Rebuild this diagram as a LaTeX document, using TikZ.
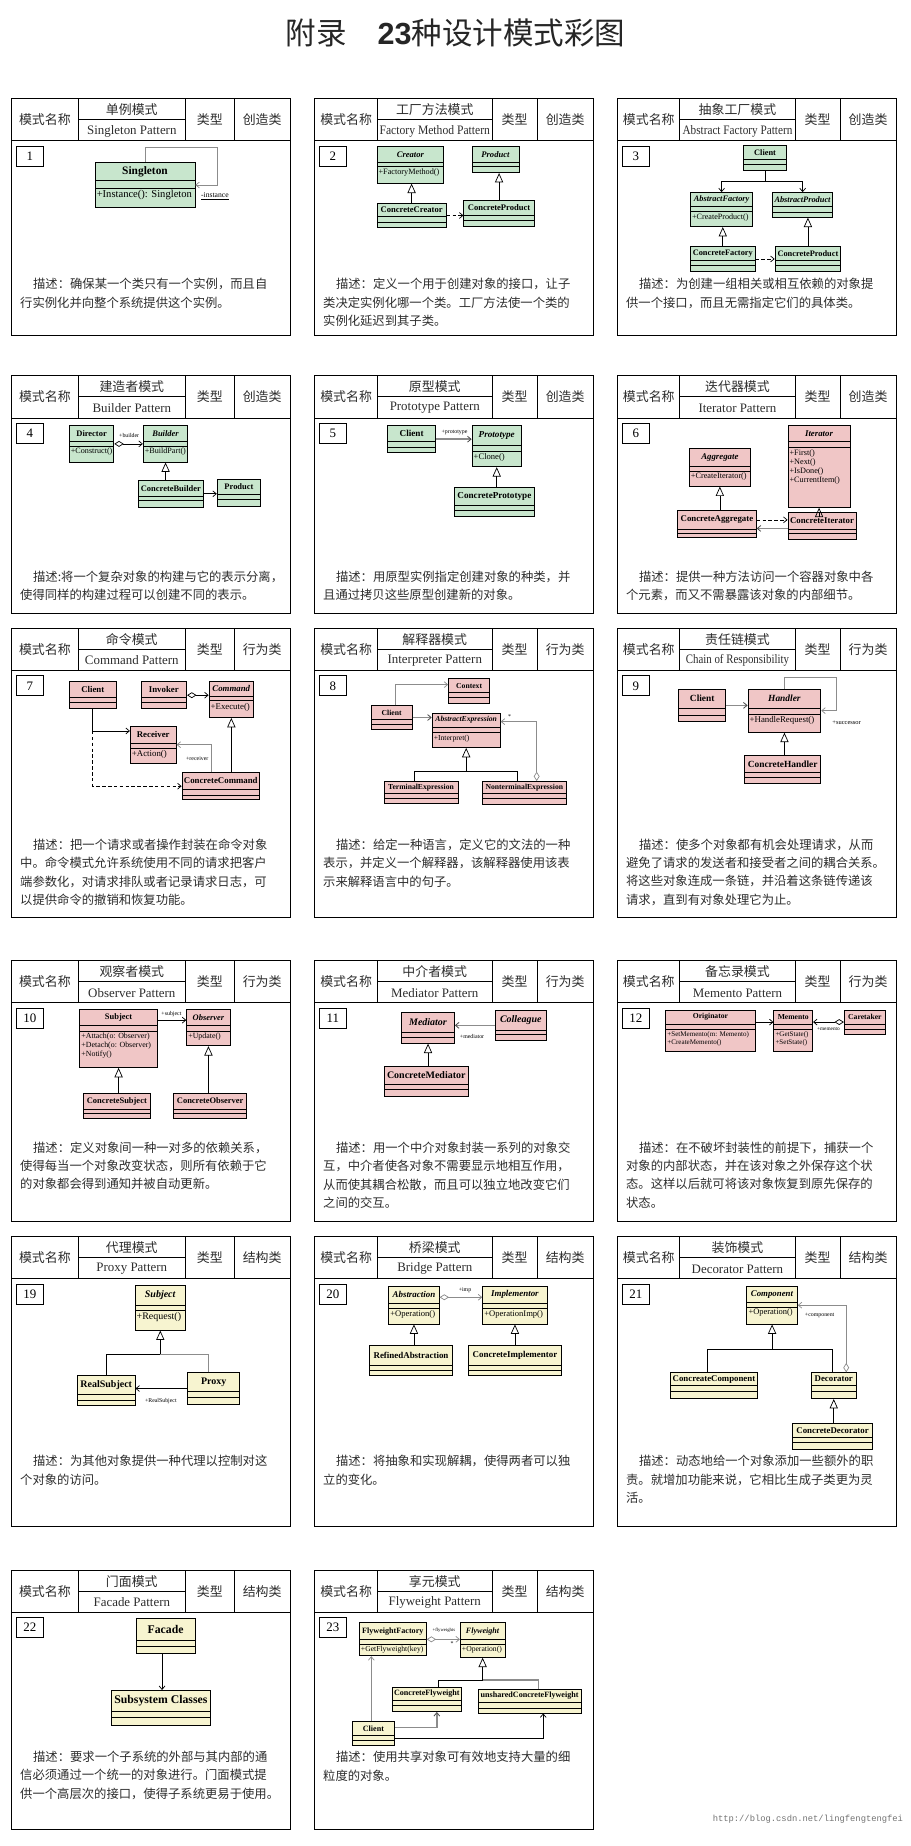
\documentclass[tikz,border=0pt]{standalone}
\usepackage{fontspec}
\usepackage{graphicx}
\setmainfont{Liberation Serif}
\newfontfamily\cjk{Noto Sans CJK SC}
\newfontfamily\ttlsans{Liberation Sans}
\newfontfamily\wmfont{Liberation Mono}
\usetikzlibrary{arrows.meta,fit,calc}
\definecolor{cgreen}{RGB}{200,230,205}
\definecolor{cpink}{RGB}{240,198,198}
\definecolor{cyell}{RGB}{247,244,208}
\definecolor{txt}{RGB}{45,45,45}
\definecolor{lgray}{RGB}{140,140,140}
\def\cf{cgreen}\def\cns{7}\def\cms{6}\def\cml{7}
\tikzset{
 pbox/.style={draw=black, line width=0.8pt, inner sep=0pt},
 pline/.style={line width=0.8pt},
 hcn/.style={font=\cjk\fontsize{11}{13}\selectfont, text=txt, inner sep=0pt},
 hen/.style={font=\fontsize{11}{13}\selectfont, text=txt, inner sep=0pt},
 nbox/.style={draw=black, line width=0.7pt, inner sep=0pt},
 ntxt/.style={font=\fontsize{11}{13}\selectfont, inner sep=0pt},
 desc/.style={font=\cjk\fontsize{10.5}{15.7}\selectfont, text=txt, align=left, inner sep=0pt, anchor=north west},
 cls/.style={draw=black, line width=0.7pt, inner sep=0pt},
 cline/.style={line width=0.6pt},
 cname/.style={font=\bfseries\fontsize{\cns}{\cns}\selectfont, inner sep=0pt},
 cmeth/.style={font=\fontsize{\cms}{\cml}\selectfont, inner xsep=1.2pt, inner ysep=1.6pt, align=left, anchor=north west},
 lbl/.style={font=\fontsize{5}{6}\selectfont, inner sep=0pt},
 conn/.style={line width=0.6pt, draw=black},
 barb/.style={-{Straight Barb[length=3pt, width=5pt, line width=0.6pt]}},
 nav/.style={conn, barb},
 gnav/.style={line width=1.4pt, draw=lgray, -{Straight Barb[length=3pt, width=5pt, line width=0.7pt, color=black!70]}},
 gen/.style={conn, -{Triangle[open, length=8pt, width=7pt, line width=0.6pt]}},
 dep/.style={conn, dash pattern=on 3pt off 2pt, barb},
 agg/.style={conn, {Diamond[open, length=8pt, width=5pt, line width=0.6pt]}-{Straight Barb[length=3pt, width=5pt, line width=0.6pt]}},
 ttl/.style={font=\cjk\fontsize{26}{30}\selectfont, inner sep=0pt, text=black!85},
}
% class box: name, left, top, right, bottom, line1, line2, title, methods
\newcommand{\uml}[9]{%
 \node[cls, fill=\cf, fit={(#2,#3) (#4,#5)}] (#1) {};
 \draw[cline] (#2,#6) -- (#4,#6) (#2,#7) -- (#4,#7);
 \node[cname] (#1n) at ({(#2+#4)/2},{(#3+#6)/2}) {#8};
 \node[cmeth] (#1m) at (#2,#7) {#9};
}
% panel: number, height, cn name, en name, type, d1, d2
\newcommand{\panel}[7]{%
 \node[pbox, fit={(0,0) (237,#2)}] (P#1) {};
 \draw[pline] (0,36) -- (237,36) (#6,0) -- (#6,36) (#7,0) -- (#7,36) (189.5,0) -- (189.5,36) (#6,18) -- (#7,18);
 \node[hcn] (P#1a) at ({#6/2},18) {模式名称};
 \node[hcn] (P#1b) at ({(#6+#7)/2},9.5) {#3};
 \node[hen] (P#1c) at ({(#6+#7)/2},27.5) {#4};
 \node[hcn] (P#1d) at ({(#7+189.5)/2},18) {类型};
 \node[hcn] (P#1e) at (213.25,18) {#5};
 \node[nbox, fit={(4,40.5) (27,57.5)}] (P#1f) {};
 \node[ntxt] (P#1g) at (15.5,49) {#1};
}
\newcommand{\desc}[3]{\node[desc] (#1) at (7,{#2-5}) {\hspace*{11pt}#3};}

\begin{document}
\begin{tikzpicture}[x=1pt,y=-1pt]
\useasboundingbox (0,0) rectangle (775,1572);
\fill[white] (0,0) rectangle (775,1572);
\node[ttl] (title) at (388,28) {附录　{\ttlsans\bfseries 23}种设计模式彩图};

% ---------- P1
\begin{scope}[shift={(10,84)}]
\panel{1}{202}{单例模式}{Singleton Pattern}{创造类}{56.5}{148}
\def\cf{cgreen}\def\cns{9.7}\def\cms{9}\def\cml{9.5}
\uml{c1a}{71}{54}{156}{93}{70}{76}{Singleton}{+Instance(): Singleton}
\draw[nav,draw=lgray] (c1a.north) -- ++(0,-12) -| ([xshift=19pt]c1a.east) -- (c1a.east);
\node[lbl,font=\fontsize{6.5}{7}\selectfont] (l1) at (173,83) {\underline{-instance}};
\desc{d1}{158}{描述：确保某一个类只有一个实例，而且自\\行实例化并向整个系统提供这个实例。}
\end{scope}

% ---------- P2
\begin{scope}[shift={(268,84)}]
\panel{2}{202}{工厂方法模式}{\scalebox{0.9}[1]{Factory Method Pattern}}{创造类}{53.5}{151}
\def\cf{cgreen}\def\cns{7.3}\def\cms{7}\def\cml{8}
\uml{c2a}{53}{41}{110}{72}{54}{58}{\textit{Creator}}{+FactoryMethod()}
\uml{c2b}{134}{41}{174}{63}{54}{58}{\textit{Product}}{}
\uml{c2c}{53}{89}{112}{110}{100}{105}{ConcreteCreator}{}
\uml{c2d}{127}{87}{187}{109}{99}{104}{ConcreteProduct}{}
\draw[gen] (c2c.north) -- (c2c.north |- c2a.south);
\draw[gen] (c2d.north) -- (c2d.north |- c2b.south);
\draw[dep] (c2c.east) -- (c2c.east -| c2d.west);
\desc{d2}{158}{描述：定义一个用于创建对象的接口，让子\\类决定实例化哪一个类。工厂方法使一个类的\\实例化延迟到其子类。}
\end{scope}

% ---------- P3
\begin{scope}[shift={(526,84)}]
\panel{3}{202}{抽象工厂模式}{\scalebox{0.87}[1]{Abstract Factory Pattern}}{创造类}{53}{151}
\def\cf{cgreen}\def\cns{7.1}\def\cms{6.9}\def\cml{8}
\uml{c3a}{107}{40}{144}{61}{52}{56}{Client}{}
\uml{c3b}{62}{80}{115}{109}{92}{96}{\textit{AbstractFactory}}{+CreateProduct()}
\uml{c3c}{132}{80}{183}{101}{92}{96.5}{\textit{AbstractProduct}}{}
\uml{c3d}{62}{126}{117}{147}{138}{142}{ConcreteFactory}{}
\uml{c3e}{134}{126}{190}{147}{138}{142}{ConcreteProduct}{}
\coordinate (c3j) at ([yshift=-9pt]c3a.south);
\draw[conn] (c3a.south) -- (c3j);
\draw[nav] (c3j) -| (c3b.north);
\draw[nav] (c3j) -| (c3c.north);
\draw[gen] (c3d.north) -- (c3d.north |- c3b.south);
\draw[gen] (c3e.north) -- (c3e.north |- c3c.south);
\draw[dep] (c3d.east) -- (c3d.east -| c3e.west);
\desc{d3}{158}{描述：为创建一组相关或相互依赖的对象提\\供一个接口，而且无需指定它们的具体类。}
\end{scope}

% ---------- P4
\begin{scope}[shift={(10,320)}]
\panel{4}{202}{建造者模式}{Builder Pattern}{创造类}{56.5}{148}
\def\cf{cgreen}\def\cns{7.2}\def\cms{6.9}\def\cml{8}
\uml{c4a}{49}{42.5}{87}{73.5}{56}{60}{Director}{+Construct()}
\uml{c4b}{112}{42.5}{150}{73.5}{56}{60}{\textit{Builder}}{+BuildPart()}
\uml{c4c}{108}{89}{163}{112}{102.5}{106.5}{ConcreteBuilder}{}
\uml{c4d}{175}{88}{212}{111}{101}{105.5}{Product}{}
\draw[agg] (c4a.east) -- (c4a.east -| c4b.west);
\node[lbl] (l4) at (100,51) {+builder};
\draw[gen] (c4b.south |- c4c.north) -- (c4b.south);
\draw[nav] (c4c.east) -- (c4c.east -| c4d.west);
\desc{d4}{171}{描述:将一个复杂对象的构建与它的表示分离，\\使得同样的构建过程可以创建不同的表示。}
\end{scope}

% ---------- P5
\begin{scope}[shift={(268,320)}]
\panel{5}{202}{原型模式}{Prototype Pattern}{创造类}{53.5}{151}
\def\cf{cgreen}\def\cns{7.8}\def\cms{7.3}\def\cml{8.3}
\uml{c5a}{62}{42.5}{103}{65.5}{56}{61}{Client}{}
\uml{c5b}{134}{42.5}{176}{77.5}{59.5}{64}{\textit{Prototype}}{+Clone()}
\uml{c5c}{119}{95}{187}{120}{110.5}{115}{ConcretePrototype}{}
\draw[gnav] (c5a.east) -- (c5a.east -| c5b.west);
\node[lbl] (l5) at (119,48) {+prototype};
\draw[gen] (c5b.south |- c5c.north) -- (c5b.south);
\desc{d5}{171}{描述：用原型实例指定创建对象的种类，并\\且通过拷贝这些原型创建新的对象。}
\end{scope}

% ---------- P6
\begin{scope}[shift={(526,320)}]
\panel{6}{202}{迭代器模式}{Iterator Pattern}{创造类}{53}{151}
\def\cf{cpink}\def\cns{7.5}\def\cms{7}\def\cml{7.8}
\uml{c6a}{145}{42.5}{198}{112}{56}{61}{\textit{Iterator}}{+First()\\+Next()\\+IsDone()\\+CurrentItem()}
\uml{c6b}{61}{62}{113}{94}{77}{81}{\textit{Aggregate}}{+CreateIterator()}
\uml{c6c}{51}{115}{118}{138}{130.5}{134}{ConcreteAggregate}{}
\uml{c6d}{145}{116}{203}{139}{130.5}{134.5}{ConcreteIterator}{}
\draw[gen] (c6b.south |- c6c.north) -- (c6b.south);
\draw[gen] (c6a.south |- c6d.north) -- (c6a.south);
\draw[dep] ([yshift=3.8pt]c6c.east) -- ([yshift=3.8pt]c6c.east -| c6d.west);
\draw[gnav] ([yshift=-2.5pt]c6d.west) -- ([yshift=-2.5pt]c6d.west -| c6c.east);
\desc{d6}{171}{描述：提供一种方法访问一个容器对象中各\\个元素，而又不需暴露该对象的内部细节。}
\end{scope}

% ---------- P7
\begin{scope}[shift={(10,535)}]
\panel{7}{246}{命令模式}{Command Pattern}{行为类}{56.5}{148}
\def\cf{cpink}\def\cns{7.5}\def\cms{7.5}\def\cml{8.5}
\uml{c7a}{49}{45.5}{89}{68.5}{59}{63.5}{Client}{}
\uml{c7b}{110}{45.5}{149}{68.5}{59}{63.5}{Invoker}{}
\uml{c7c}{168}{45}{206}{76}{57.8}{61.8}{\textit{Command}}{+Execute()}
\uml{c7d}{101}{83.3}{140}{115}{98}{102}{Receiver}{+Action()}
\uml{c7e}{145}{123}{211}{146}{137}{142}{ConcreteCommand}{}
\draw[agg] (c7b.east) -- (c7b.east -| c7c.west);
\coordinate (c7r) at ([yshift=-4.5pt]c7d.north west);
\draw[nav] (c7a.south) -- (c7a.south |- c7r) -- (c7r);
\draw[dep] (c7a.south |- c7r) -- (c7a.south |- c7e.west) -- (c7e.west);
\draw[gen] (c7c.south |- c7e.north) -- (c7c.south);
\draw[nav,draw=lgray] ([xshift=-8pt]c7e.north) |- (c7d.east);
\node[lbl] (l7) at (158,111) {+receiver};
\desc{d7}{184}{描述：把一个请求或者操作封装在命令对象\\中。命令模式允许系统使用不同的请求把客户\\端参数化，对请求排队或者记录请求日志，可\\以提供命令的撤销和恢复功能。}
\end{scope}

% ---------- P8
\begin{scope}[shift={(268,535)}]
\panel{8}{246}{解释器模式}{Interpreter Pattern}{行为类}{53.5}{151}
\def\cf{cpink}\def\cns{6.5}\def\cms{6.5}\def\cml{7.5}
\uml{c8a}{114}{43}{149}{64}{55}{59}{Context}{}
\uml{c8b}{48}{66}{83}{86}{77.6}{81.8}{Client}{}
\uml{c8c}{100}{72.5}{158}{101.5}{84}{89}{\textit{AbstractExpression}}{+Interpret()}
\uml{c8d}{59}{130.5}{122}{149.5}{141}{145}{TerminalExpression}{}
\uml{c8e}{143}{130.5}{214}{150}{141}{145}{NonterminalExpression}{}
\coordinate (c8k) at ([yshift=5.5pt]c8a.west);
\draw[nav,draw=lgray] ([xshift=3.5pt]c8b.north) |- (c8k);
\draw[gnav] (c8b.east) -- (c8b.east -| c8c.west);
\coordinate (c8j) at ([yshift=-20pt]c8c.south);
\draw[gen] (c8j) -- (c8c.south);
\draw[conn] ([xshift=-6pt]c8d.north) |- (c8j);
\draw[conn] ([xshift=-6pt]c8e.north) |- (c8j);
\draw[agg,draw=lgray] ([xshift=10.5pt]c8e.north) |- ([yshift=7.5pt]c8c.east);
\node[lbl] (l8) at (166,75) {*};
\desc{d8}{184}{描述：给定一种语言，定义它的文法的一种\\表示，并定义一个解释器，该解释器使用该表\\示来解释语言中的句子。}
\end{scope}

% ---------- P9
\begin{scope}[shift={(526,535)}]
\panel{9}{246}{责任链模式}{\scalebox{0.84}[1]{Chain of Responsibility}}{行为类}{53}{151}
\def\cf{cpink}\def\cns{8}\def\cms{7.5}\def\cml{8.5}
\uml{c9a}{52}{51.7}{92}{79.7}{68.3}{74}{Client}{}
\uml{c9b}{111}{51.7}{173}{88.6}{68.3}{73.5}{\textit{Handler}}{+HandleRequest()}
\uml{c9c}{108}{108.7}{173}{132.5}{123}{127.3}{ConcreteHandler}{}
\draw[gnav] (c9a.east) -- (c9a.east -| c9b.west);
\draw[nav,draw=lgray] (c9b.north) -- ++(0,-9.7) -| ([xshift=13pt]c9b.east) -- (c9b.east);
\node[lbl,font=\fontsize{5.5}{6}\selectfont] (l9) at (195,80.4) {+successor};
\draw[gen] (c9b.south |- c9c.north) -- (c9b.south);
\desc{d9}{184}{描述：使多个对象都有机会处理请求，从而\\避免了请求的发送者和接受者之间的耦合关系。\\将这些对象连成一条链，并沿着这条链传递该\\请求，直到有对象处理它为止。}
\end{scope}

% ---------- P10
\begin{scope}[shift={(10,818)}]
\panel{10}{222}{观察者模式}{Observer Pattern}{行为类}{56.5}{148}
\def\cf{cpink}\def\cns{7.2}\def\cms{6.7}\def\cml{7.5}
\uml{c10a}{58}{41.4}{124}{91}{55}{60}{Subject}{+Attach(o: Observer)\\+Detach(o: Observer)\\+Notify()}
\uml{c10b}{149}{41.4}{186}{72.5}{55}{60}{\textit{Observer}}{+Update()}
\uml{c10c}{61}{112.8}{118}{134.5}{126.3}{130.4}{ConcreteSubject}{}
\uml{c10d}{138}{112.8}{200}{134.5}{126.3}{130.4}{ConcreteObserver}{}
\coordinate (c10k) at ([yshift=15.5pt]c10a.east);
\draw[nav] (c10k) -- (c10k -| c10b.west);
\node[lbl] (l10) at (136,45.5) {+subject};
\draw[gen] (c10a.south |- c10c.north) -- (c10a.south);
\draw[gen] (c10b.south |- c10d.north) -- (c10b.south);
\desc{d10}{159}{描述：定义对象间一种一对多的依赖关系，\\使得每当一个对象改变状态，则所有依赖于它\\的对象都会得到通知并被自动更新。}
\end{scope}

% ---------- P11
\begin{scope}[shift={(268,818)}]
\panel{11}{222}{中介者模式}{Mediator Pattern}{行为类}{53.5}{151}
\def\cf{cpink}\def\cns{8.5}\def\cms{6}\def\cml{7}
\uml{c11a}{74}{44.2}{119}{70.4}{61}{65.2}{\textit{Mediator}}{}
\uml{c11b}{154}{42}{197}{68.3}{59}{63}{\textit{Colleague}}{}
\uml{c11c}{59}{89.8}{131}{116}{105.6}{109.7}{ConcreteMediator}{}
\draw[gnav] (c11b.west) -- (c11b.west -| c11a.east);
\node[lbl] (l11) at (134,64.8) {+mediator};
\draw[gen] (c11a.south |- c11c.north) -- (c11a.south);
\desc{d11}{159}{描述：用一个中介对象封装一系列的对象交\\互，中介者使各对象不需要显示地相互作用，\\从而使其耦合松散，而且可以独立地改变它们\\之间的交互。}
\end{scope}

% ---------- P12
\begin{scope}[shift={(526,818)}]
\panel{12}{222}{备忘录模式}{Memento Pattern}{行为类}{53}{151}
\def\cf{cpink}\def\cns{6.5}\def\cms{6}\def\cml{7}
\uml{c12a}{41}{42}{117}{77}{54.4}{58.3}{Originator}{+SetMemento(m: Memento)\\+CreateMemento()}
\uml{c12b}{133}{42}{166}{77}{54.4}{58.3}{Memento}{+GetState()\\+SetState()}
\uml{c12c}{193}{42}{228}{62.7}{54.4}{58.3}{Caretaker}{}
\coordinate (c12k) at ([yshift=7.1pt]c12a.east);
\draw[nav] (c12k) -- (c12k -| c12b.west);
\draw[agg] (c12c.west) -- (c12c.west -| c12b.east);
\node[lbl,font=\fontsize{4.5}{5}\selectfont] (l12) at (179.5,58.5) {+memento};
\desc{d12}{159}{描述：在不破坏封装性的前提下，捕获一个\\对象的内部状态，并在该对象之外保存这个状\\态。这样以后就可将该对象恢复到原先保存的\\状态。}
\end{scope}

% ---------- P19
\begin{scope}[shift={(10,1053)}]
\panel{19}{247}{代理模式}{Proxy Pattern}{结构类}{56.5}{148}
\def\cf{cyell}\def\cns{8.5}\def\cms{8.5}\def\cml{9.5}
\uml{c19a}{105}{41.4}{148}{79.7}{58.6}{63.1}{\textit{Subject}}{+Request()}
\uml{c19b}{56}{118}{105}{143.9}{134.5}{139.2}{RealSubject}{}
\uml{c19c}{150}{116}{194}{142.8}{132.2}{136.6}{Proxy}{}
\coordinate (c19j) at ([yshift=-20.3pt]c19a.south);
\draw[gen] (c19j) -- (c19a.south);
\draw[conn] (c19b.north) |- (c19j);
\draw[conn,draw=lgray] ([xshift=-5pt]c19c.north) |- (c19j);
\draw[nav] (c19c.west) -- (c19c.west -| c19b.east);
\node[lbl] (l19) at (127,140) {+RealSubject};
\desc{d19}{191}{描述：为其他对象提供一种代理以控制对这\\个对象的访问。}
\end{scope}

% ---------- P20
\begin{scope}[shift={(268,1053)}]
\panel{20}{247}{桥梁模式}{Bridge Pattern}{结构类}{53.5}{151}
\def\cf{cyell}\def\cns{7.6}\def\cms{7.3}\def\cml{8.3}
\uml{c20a}{63}{42.4}{106}{74.5}{56.5}{61}{\textit{Abstraction}}{+Operation()}
\uml{c20b}{143}{42.4}{198}{74.5}{56.5}{61}{\textit{Implementor}}{+OperationImp()}
\uml{c20c}{47}{93}{117}{118}{109.5}{113.8}{RefinedAbstraction}{}
\uml{c20d}{131}{93}{210}{118}{109.5}{113.8}{ConcreteImplementor}{}
\coordinate (c20k) at ([yshift=6.75pt]c20a.east);
\draw[agg,draw=lgray,line width=1.3pt] (c20k) -- (c20k -| c20b.west);
\node[lbl] (l20) at (128,45.5) {+imp};
\draw[gen] (c20a.south |- c20c.north) -- (c20a.south);
\draw[gen] (c20b.south |- c20d.north) -- (c20b.south);
\desc{d20}{191}{描述：将抽象和实现解耦，使得两者可以独\\立的变化。}
\end{scope}

% ---------- P21
\begin{scope}[shift={(526,1053)}]
\panel{21}{247}{装饰模式}{Decorator Pattern}{结构类}{53}{151}
\def\cf{cyell}\def\cns{7.5}\def\cms{7.2}\def\cml{8.2}
\uml{c21a}{110}{42.4}{153}{74.5}{56}{60}{\textit{Component}}{+Operation()}
\uml{c21b}{45}{116}{119}{138}{126.8}{131.6}{ConcreateComponent}{}
\uml{c21c}{165}{116}{203}{138}{126.8}{131.6}{Decorator}{}
\uml{c21d}{149}{159}{217}{181}{171}{175.5}{ConcreteDecorator}{}
\coordinate (c21j) at ([yshift=-21.4pt]c21a.south);
\draw[gen] (c21j) -- (c21a.south);
\draw[conn] ([xshift=-6pt]c21b.north) |- (c21j);
\draw[conn] ([xshift=-1pt]c21c.north) |- (c21j);
\draw[agg,draw=lgray] ([xshift=10.6pt]c21c.north) |- (c21a.east);
\node[lbl] (l21) at (172,67) {+component};
\draw[gen] (c21c.south |- c21d.north) -- (c21c.south);
\desc{d21}{191}{描述：动态地给一个对象添加一些额外的职\\责。就增加功能来说，它相比生成子类更为灵\\活。}
\end{scope}

% ---------- P22
\begin{scope}[shift={(10,1337)}]
\panel{22}{221}{门面模式}{Facade Pattern}{结构类}{56.5}{148}
\def\cf{cyell}\def\cns{10}\def\cms{7}\def\cml{8}
\uml{c22a}{106}{41.4}{156}{71.4}{59.5}{65.2}{Facade}{}
\uml{c22b}{85}{102.5}{169}{132}{119.9}{125.8}{Subsystem Classes}{}
\draw[nav,line width=0.5pt] ([xshift=-3pt]c22a.south) -- ([xshift=-3pt]c22a.south |- c22b.north);
\desc{d22}{159}{描述：要求一个子系统的外部与其内部的通\\信必须通过一个统一的对象进行。门面模式提\\供一个高层次的接口，使得子系统更易于使用。}
\end{scope}

% ---------- P23
\begin{scope}[shift={(268,1337)}]
\panel{23}{221}{享元模式}{Flyweight Pattern}{结构类}{53.5}{151}
\def\cf{cyell}\def\cns{6.9}\def\cms{6.5}\def\cml{7.5}
\uml{c23a}{38}{45}{95}{73}{59}{63}{FlyweightFactory}{+GetFlyweight(key)}
\uml{c23b}{124}{45}{162}{74.3}{59}{63}{\textit{Flyweight}}{+Operation()}
\uml{c23c}{66}{99.8}{125}{120.5}{111.2}{115.4}{ConcreteFlyweight}{}
\uml{c23d}{139}{101.3}{227}{121.7}{113}{117.7}{unsharedConcreteFlyweight}{}
\uml{c23e}{32}{129}{68}{149}{140.4}{144.7}{Client}{}
\draw[agg,draw=lgray,line width=1.2pt] (c23a.east) -- (c23a.east -| c23b.west);
\node[lbl,font=\fontsize{4}{5}\selectfont] (l23a) at (110,51.5) {+flyweights};
\node[lbl] (l23b) at (117,63) {*};
\coordinate (c23j) at ([yshift=-19pt]c23b.south);
\draw[gen] (c23j) -- (c23b.south);
\draw[conn] ([xshift=10pt]c23c.north) |- (c23j);
\draw[conn,draw=lgray,line width=1pt] ([xshift=7.6pt]c23d.north) |- (c23j);
\draw[nav,draw=lgray] ([xshift=-1.8pt]c23e.north) -- ([xshift=-1.8pt]c23e.north |- c23a.south);
\draw[gnav] ([yshift=5pt]c23e.east) -| ([xshift=8.5pt]c23c.south);
\draw[nav] ([yshift=-4.2pt]c23e.east) -| ([xshift=11.6pt]c23d.south);
\desc{d23}{159}{描述：使用共享对象可有效地支持大量的细\\粒度的对象。}
\end{scope}

\node[font=\wmfont\fontsize{7.5}{9}\selectfont, text=black!55, inner sep=0pt] (wm) at (688,1549) {http://blog.csdn.net/lingfengtengfei};
\end{tikzpicture}
\end{document}
